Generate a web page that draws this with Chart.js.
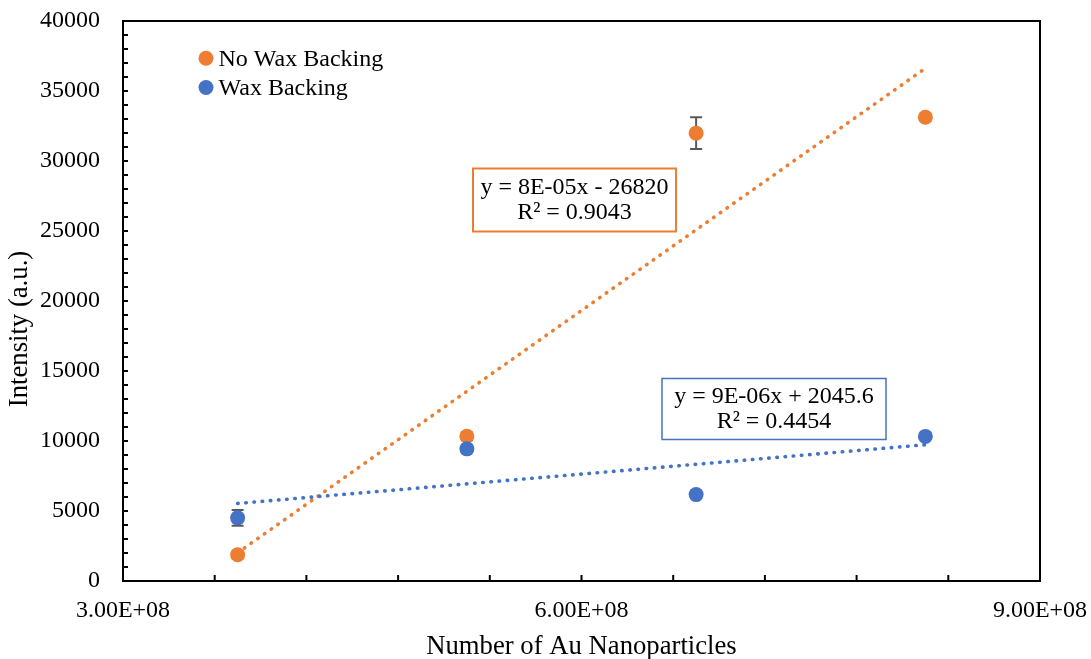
<!DOCTYPE html>
<html>
<head>
<meta charset="utf-8">
<title>Intensity vs Number of Au Nanoparticles</title>
<script src="https://cdn.jsdelivr.net/npm/chart.js@4.4.1/dist/chart.umd.min.js"></script>
<style>
  html, body { margin: 0; padding: 0; background: #ffffff; }
  #wrap { width: 1091px; height: 659px; }
</style>
</head>
<body>
<div id="wrap"><canvas id="chart" width="1091" height="659"></canvas></div>
<script>
// ---- data ----
const particleCounts = [3.75e8, 5.25e8, 6.75e8, 8.25e8];
const noWaxIntensity = [1870, 10335, 31990, 33130];
const noWaxError = [250, 280, 1130, 250];
const waxIntensity = [4510, 9440, 6170, 10330];
const waxError = [560, 250, 250, 200];
const seriesNames = ['No Wax Backing', 'Wax Backing'];
// linear trend lines: [slope, intercept]
const noWaxFit = [7.69e-5, -26820];
const waxFit = [9.32e-6, 2045.6];
const noWaxFitText = ['y = 8E-05x - 26820', 'R\u00B2 = 0.9043'];
const waxFitText = ['y = 9E-06x + 2045.6', 'R\u00B2 = 0.4454'];
const xTickValues = [3e8, 6e8, 9e8];
const xTickLabels = ['3.00E+08', '6.00E+08', '9.00E+08'];
const xAxisTitle = 'Number of Au Nanoparticles';
const yAxisTitle = 'Intensity (a.u.)';

// ---- style ----
const ORANGE = '#ED7D31';
const BLUE = '#4472C4';
const SERIF = '"Liberation Serif", "Times New Roman", serif';

const toPoints = ys => particleCounts.map((x, i) => ({ x, y: ys[i] }));
const fitPoints = fit => {
  const xs = [Math.min(...particleCounts), Math.max(...particleCounts)];
  return xs.map(x => ({ x, y: fit[0] * x + fit[1] }));
};

const errorSeries = [
  { values: noWaxIntensity, errors: noWaxError },
  { values: waxIntensity, errors: waxError }
];

const fitBoxes = [
  { lines: noWaxFitText, color: ORANGE, cx: 574.5, cy: 200, w: 203, h: 63, lw: 2 },
  { lines: waxFitText, color: BLUE, cx: 774, cy: 409, w: 224, h: 61, lw: 1.5 }
];

// keep the plot area fixed: no extra room for overhanging tick labels
const fixScale = size => s => {
  if (s.isHorizontal()) { s.height = size; } else { s.width = size; }
  s.paddingTop = 0; s.paddingBottom = 0; s.paddingLeft = 0; s.paddingRight = 0;
};

const decorations = {
  id: 'decorations',
  beforeDatasetsDraw(chart) {
    const { ctx, scales: { x, y } } = chart;
    ctx.save();
    ctx.strokeStyle = '#595959';
    ctx.lineWidth = 2;
    errorSeries.forEach(s => {
      particleCounts.forEach((xv, i) => {
        const px = x.getPixelForValue(xv);
        const top = y.getPixelForValue(s.values[i] + s.errors[i]);
        const bot = y.getPixelForValue(s.values[i] - s.errors[i]);
        ctx.beginPath();
        ctx.moveTo(px, top); ctx.lineTo(px, bot);
        ctx.moveTo(px - 6, top); ctx.lineTo(px + 6, top);
        ctx.moveTo(px - 6, bot); ctx.lineTo(px + 6, bot);
        ctx.stroke();
      });
    });
    ctx.restore();
  },
  afterDatasetsDraw(chart) {
    const { ctx } = chart;
    ctx.save();
    ctx.font = '24px ' + SERIF;
    ctx.textAlign = 'center';
    ctx.textBaseline = 'middle';
    fitBoxes.forEach(b => {
      ctx.fillStyle = '#ffffff';
      ctx.fillRect(b.cx - b.w / 2, b.cy - b.h / 2, b.w, b.h);
      ctx.strokeStyle = b.color;
      ctx.lineWidth = b.lw;
      ctx.strokeRect(b.cx - b.w / 2, b.cy - b.h / 2, b.w, b.h);
      ctx.fillStyle = '#000000';
      ctx.fillText(b.lines[0], b.cx, b.cy - 12);
      ctx.fillText(b.lines[1], b.cx, b.cy + 13);
    });
    ctx.restore();
  },
  afterDraw(chart) {
    const { ctx, chartArea: a, scales: { x, y } } = chart;
    ctx.save();
    // plot frame
    ctx.strokeStyle = '#000000';
    ctx.lineWidth = 2;
    ctx.strokeRect(a.left, a.top, a.right - a.left, a.bottom - a.top);
    // inward tick marks
    ctx.beginPath();
    x.ticks.forEach(t => {
      const px = x.getPixelForValue(t.value);
      ctx.moveTo(px, a.bottom); ctx.lineTo(px, a.bottom - 6);
    });
    y.ticks.forEach(t => {
      const py = y.getPixelForValue(t.value);
      ctx.moveTo(a.left, py); ctx.lineTo(a.left + 5, py);
    });
    ctx.stroke();

    // legend
    ctx.font = '24px ' + SERIF;
    ctx.textAlign = 'left';
    ctx.textBaseline = 'middle';
    const legendY = [58.3, 87.5];
    [0, 1].forEach(i => {
      const ds = chart.data.datasets[i];
      ctx.fillStyle = ds.backgroundColor;
      ctx.beginPath();
      ctx.arc(206, legendY[i], 7.5, 0, Math.PI * 2);
      ctx.fill();
      ctx.fillStyle = '#000000';
      ctx.fillText(ds.label, 218.5, legendY[i] + 1);
    });

    // axis titles
    ctx.font = '26.7px ' + SERIF;
    ctx.textAlign = 'center';
    ctx.fillText(xAxisTitle, (a.left + a.right) / 2, 647);
    ctx.translate(20, 329);
    ctx.rotate(-Math.PI / 2);
    ctx.fillText(yAxisTitle, 0, 0);
    ctx.restore();
  }
};

new Chart(document.getElementById('chart'), {
  type: 'scatter',
  data: {
    datasets: [
      {
        label: seriesNames[0],
        data: toPoints(noWaxIntensity),
        backgroundColor: ORANGE,
        borderWidth: 0,
        pointRadius: 7.5,
        pointHoverRadius: 7.5,
        order: 1
      },
      {
        label: seriesNames[1],
        data: toPoints(waxIntensity),
        backgroundColor: BLUE,
        borderWidth: 0,
        pointRadius: 7.5,
        pointHoverRadius: 7.5,
        order: 0
      },
      {
        label: 'Linear (' + seriesNames[0] + ')',
        data: fitPoints(noWaxFit),
        showLine: true,
        borderColor: ORANGE,
        borderWidth: 3.6,
        borderDash: [0.5, 7.7],
        borderCapStyle: 'round',
        pointRadius: 0,
        fill: false,
        order: 3
      },
      {
        label: 'Linear (' + seriesNames[1] + ')',
        data: fitPoints(waxFit),
        showLine: true,
        borderColor: BLUE,
        borderWidth: 3.6,
        borderDash: [0.5, 7.7],
        borderCapStyle: 'round',
        pointRadius: 0,
        fill: false,
        order: 2
      }
    ]
  },
  options: {
    responsive: false,
    animation: false,
    devicePixelRatio: 1,
    events: [],
    layout: { padding: { left: 0, top: 21, right: 51, bottom: 0 } },
    plugins: {
      legend: { display: false },
      tooltip: { enabled: false }
    },
    scales: {
      x: {
        type: 'linear',
        min: 3e8,
        max: 9e8,
        grid: { display: false, drawTicks: false },
        border: { display: false },
        ticks: {
          stepSize: 6e7,
          autoSkip: false,
          maxRotation: 0,
          padding: 15,
          color: '#000000',
          font: { family: SERIF, size: 24 },
          callback: v => {
            const i = xTickValues.findIndex(t => Math.abs(t - v) < 1);
            return i >= 0 ? xTickLabels[i] : '';
          }
        },
        afterFit: fixScale(78)
      },
      y: {
        type: 'linear',
        min: 0,
        max: 40000,
        grid: { display: false, drawTicks: false },
        border: { display: false },
        ticks: {
          stepSize: 1000,
          maxTicksLimit: 100,
          autoSkip: false,
          padding: 23,
          color: '#000000',
          font: { family: SERIF, size: 24 },
          callback: v => (v % 5000 === 0 ? String(v) : '')
        },
        afterFit: fixScale(123)
      }
    }
  },
  plugins: [decorations]
});
</script>
</body>
</html>
